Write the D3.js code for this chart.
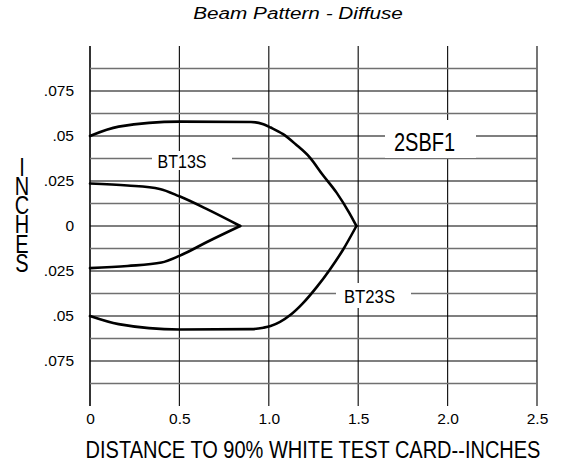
<!DOCTYPE html>
<html>
<head>
<meta charset="utf-8">
<script src="https://cdn.jsdelivr.net/npm/d3@7"></script>
<style>
  html, body { margin: 0; padding: 0; background: #fff; }
  svg { display: block; }
  text { font-family: "Liberation Sans", Arial, Helvetica, sans-serif; fill: #000; }
</style>
</head>
<body>
<svg id="chart" width="562" height="466"></svg>
<script>
// Beam pattern for the 2SBF1 sensor: half-width of the beam (inches)
// against distance to a 90% white test card (inches).

// Outer envelope (BT23S), upper and lower branches
const outerUpperX = [0, 0.16, 0.5, 0.9, 0.97, 1.01, 1.08, 1.15, 1.23, 1.30, 1.38, 1.45, 1.49];
const outerUpperY = [0.05, 0.0552, 0.058, 0.0578, 0.0565, 0.0547, 0.051, 0.0454, 0.038, 0.0286, 0.0184, 0.0073, 0];
const outerLowerX = [0, 0.16, 0.5, 0.9, 0.97, 1.01, 1.12, 1.19, 1.27, 1.34, 1.415, 1.49];
const outerLowerY = [-0.05, -0.0545, -0.0575, -0.0573, -0.0565, -0.0556, -0.0495, -0.043, -0.0337, -0.0244, -0.0132, 0];

// Inner envelope (BT13S), upper and lower branches
const innerUpperX = [0, 0.21, 0.39, 0.5, 0.66, 0.84];
const innerUpperY = [0.0236, 0.0225, 0.0206, 0.0165, 0.0091, 0];
const innerLowerX = [0, 0.21, 0.4, 0.5, 0.66, 0.84];
const innerLowerY = [-0.0234, -0.0222, -0.0203, -0.0166, -0.0086, 0];

// Axis ticks
const xTickValues = [0, 0.5, 1.0, 1.5, 2.0, 2.5];
const xTickLabels = ["0", "0.5", "1.0", "1.5", "2.0", "2.5"];
const yTickValues = [0.075, 0.05, 0.025, 0, -0.025, -0.05, -0.075];
const yTickLabels = [".075", ".05", ".025", "0", ".025", ".05", ".075"];
// Horizontal rules every 0.0125 in
const yGridValues = d3.range(-7, 8).map(k => k * 0.0125);

const titleText = "Beam Pattern - Diffuse";
const xTitle = "DISTANCE TO 90% WHITE TEST CARD--INCHES";
const yTitle = "INCHES";

const svg = d3.select("#chart");

const x = d3.scaleLinear().domain([0, 2.5]).range([90, 537]);
const y = d3.scaleLinear().domain([-0.1, 0.1]).range([406, 46]);

// Vertical rules
svg.append("g")
  .selectAll("line")
  .data(xTickValues)
  .join("line")
  .attr("x1", d => x(d)).attr("x2", d => x(d))
  .attr("y1", y(0.1)).attr("y2", y(-0.1))
  .attr("stroke", d => (d === 0 ? "#000" : "#1a1a1a"))
  .attr("stroke-width", d => (d === 0 ? 1.6 : 1.2));

// Horizontal rules: black on 0.025 multiples, grey in between
svg.append("g")
  .selectAll("line")
  .data(yGridValues)
  .join("line")
  .attr("x1", x(0)).attr("x2", x(2.5))
  .attr("y1", d => y(d)).attr("y2", d => y(d))
  .attr("stroke", (d, i) => ((i % 2 === 1) ? "#000" : "#707070"))
  .attr("stroke-width", (d, i) => ((i % 2 === 1) ? 1.1 : 1.7));

// Tick labels through d3 axes
const xAxis = svg.append("g")
  .attr("transform", `translate(0,${y(-0.1)})`)
  .call(d3.axisBottom(x).tickValues(xTickValues)
    .tickFormat((d, i) => xTickLabels[i]).tickSize(0).tickPadding(7));
xAxis.select(".domain").remove();
xAxis.selectAll("text")
  .attr("font-size", 15.5)
  .attr("fill", "#000");

const yAxis = svg.append("g")
  .attr("transform", `translate(${x(0)},0)`)
  .call(d3.axisLeft(y).tickValues(yTickValues)
    .tickFormat((d, i) => yTickLabels[i]).tickSize(0).tickPadding(16));
yAxis.select(".domain").remove();
yAxis.selectAll("text")
  .attr("font-size", 15.5)
  .attr("fill", "#000");
svg.selectAll("g[font-family]").attr("font-family", null);

// Series labels on white plates (condensed lettering)
const labels = [
  { text: "BT13S", cx: 0.515, cy: 0.0375, dy: 9.2, box: [152, 151, 80, 19], size: 18, sx: 0.89 },
  { text: "2SBF1", cx: 1.871, cy: 0.05, dy: 15, box: [385, 120, 91, 38], size: 25, sx: 0.8 },
  { text: "BT23S", cx: 1.563, cy: -0.0375, dy: 9.5, box: [336, 283, 75, 25], size: 18, sx: 0.93 }
];
const lab = svg.append("g").selectAll("g").data(labels).join("g");
lab.append("rect")
  .attr("x", d => d.box[0]).attr("y", d => d.box[1])
  .attr("width", d => d.box[2]).attr("height", d => d.box[3])
  .attr("fill", "#fff");
lab.append("text")
  .attr("transform", d => `translate(${x(d.cx)},${y(d.cy) + d.dy}) scale(${d.sx},1)`)
  .attr("text-anchor", "middle")
  .attr("font-size", d => d.size)
  .text(d => d.text);

// Beam curves
const line = d3.line()
  .x(d => x(d[0])).y(d => y(d[1]))
  .curve(d3.curveMonotoneX);
const branches = [
  d3.zip(outerUpperX, outerUpperY),
  d3.zip(outerLowerX, outerLowerY),
  d3.zip(innerUpperX, innerUpperY),
  d3.zip(innerLowerX, innerLowerY)
];
svg.append("g")
  .selectAll("path")
  .data(branches)
  .join("path")
  .attr("d", line)
  .attr("fill", "none")
  .attr("stroke", "#000")
  .attr("stroke-width", 2.6)
  .attr("stroke-linejoin", "round")
  .attr("stroke-linecap", "round");

// Title
svg.append("text")
  .attr("transform", "translate(298,19) scale(1.22,1)")
  .attr("text-anchor", "middle")
  .attr("font-size", 17)
  .attr("font-style", "italic")
  .text(titleText);

// X axis title (condensed lettering)
svg.append("text")
  .attr("transform", "translate(313,458) scale(0.87,1)")
  .attr("text-anchor", "middle")
  .attr("font-size", 23)
  .text(xTitle);

// Y axis title, letters stacked top to bottom in upright vertical writing
svg.append("text")
  .attr("transform", "translate(22,154) scale(0.8,1)")
  .attr("font-size", 25)
  .style("writing-mode", "vertical-rl")
  .style("text-orientation", "upright")
  .style("letter-spacing", "-8.5px")
  .text(yTitle);
</script>
</body>
</html>
